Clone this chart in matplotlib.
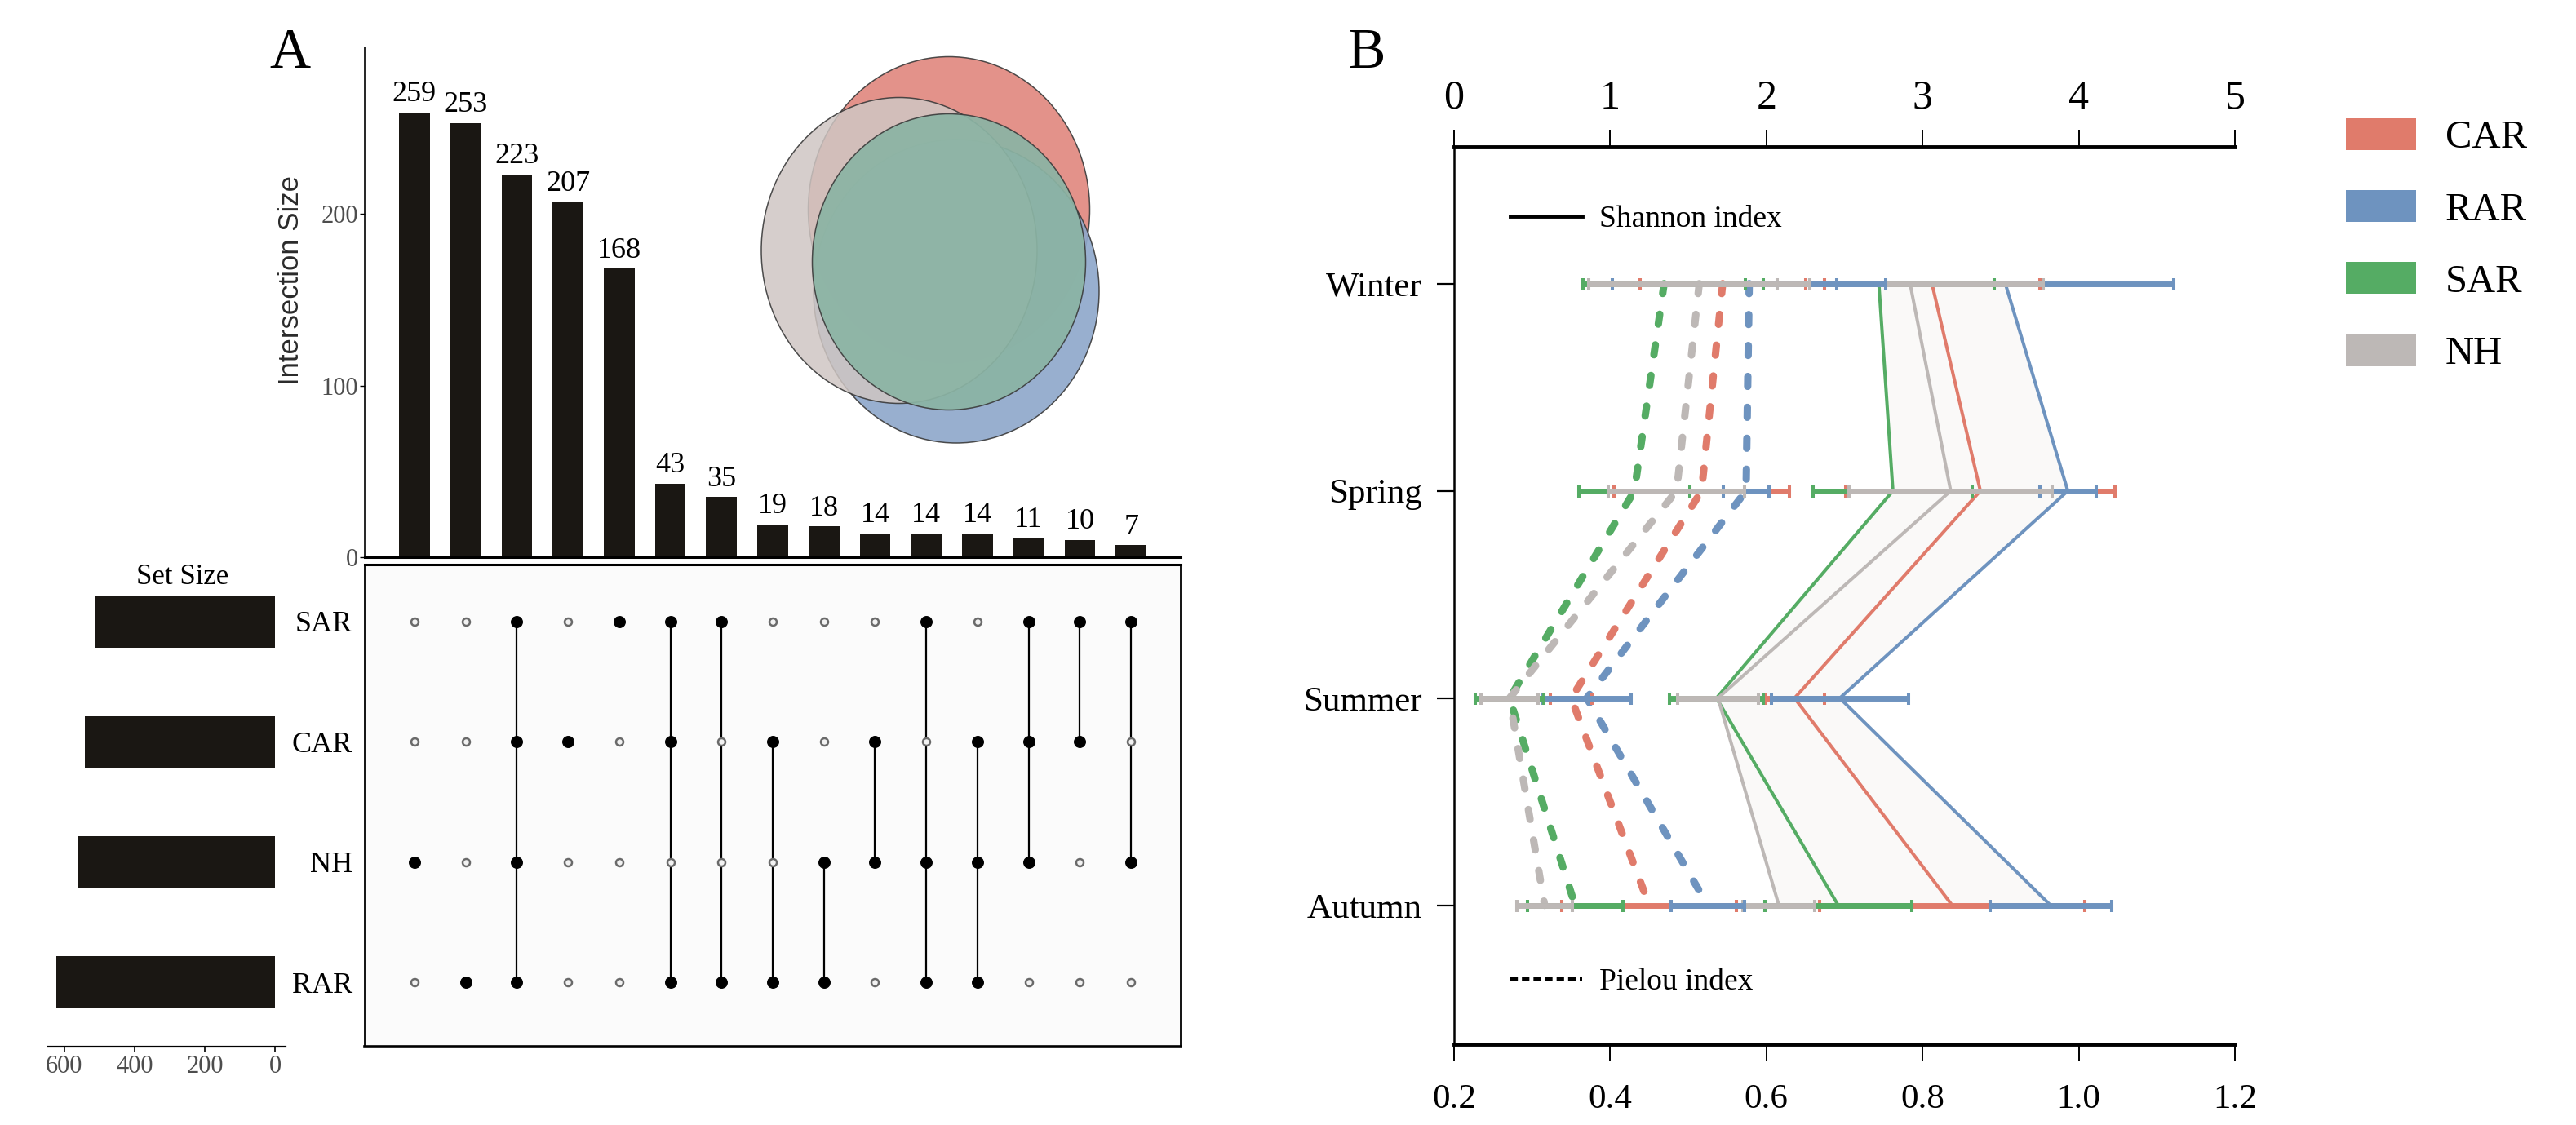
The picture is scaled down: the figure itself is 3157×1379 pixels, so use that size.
import matplotlib
matplotlib.use("Agg")
import matplotlib.pyplot as plt
import numpy as np
from matplotlib.patches import Ellipse, Patch
from matplotlib.lines import Line2D

plt.rcParams['font.family'] = ['Liberation Serif', 'DejaVu Serif']

# ---------------- data : panel A (UpSet) ----------------
set_names = ["RAR", "NH", "CAR", "SAR"]          # bottom -> top rows of the matrix
set_sizes = [623, 563, 542, 514]
inter_sizes = [259, 253, 223, 207, 168, 43, 35, 19, 18, 14, 14, 14, 11, 10, 7]
inter_members = [
    ["NH"], ["RAR"], ["SAR", "CAR", "NH", "RAR"], ["CAR"], ["SAR"],
    ["SAR", "CAR", "RAR"], ["SAR", "RAR"], ["CAR", "RAR"], ["NH", "RAR"],
    ["CAR", "NH"], ["SAR", "NH", "RAR"], ["CAR", "NH", "RAR"],
    ["SAR", "CAR", "NH"], ["SAR", "CAR"], ["SAR", "NH"],
]
bar_ticks = [0, 100, 200]
set_ticks = [600, 400, 200, 0]

# ---------------- data : panel B ----------------
seasons = ["Winter", "Spring", "Summer", "Autumn"]
groups = ["CAR", "RAR", "SAR", "NH"]
shannon_car = [3.06, 3.37, 2.18, 3.19]
shannon_rar = [3.53, 3.93, 2.47, 3.82]
shannon_sar = [2.72, 2.81, 1.68, 2.46]
shannon_nh = [2.92, 3.18, 1.69, 2.08]
shannon_err_car = [0.69, 0.86, 0.19, 0.85]
shannon_err_rar = [1.08, 0.18, 0.44, 0.39]
shannon_err_sar = [0.74, 0.51, 0.30, 0.47]
shannon_err_nh = [0.85, 0.65, 0.26, 0.23]
pielou_car = [0.544, 0.517, 0.350, 0.450]
pielou_rar = [0.578, 0.574, 0.370, 0.525]
pielou_sar = [0.469, 0.431, 0.271, 0.355]
pielou_nh = [0.514, 0.485, 0.271, 0.316]
pielou_err_car = [0.106, 0.112, 0.027, 0.112]
pielou_err_rar = [0.175, 0.029, 0.057, 0.047]
pielou_err_sar = [0.104, 0.071, 0.044, 0.061]
pielou_err_nh = [0.142, 0.087, 0.037, 0.036]
shannon_ticks = [0, 1, 2, 3, 4, 5]
pielou_ticks = [0.2, 0.4, 0.6, 0.8, 1.0, 1.2]

colors = {"CAR": "#E07B6B", "RAR": "#6E93BF", "SAR": "#55AC64", "NH": "#BDB8B6"}
shannon = {"CAR": shannon_car, "RAR": shannon_rar, "SAR": shannon_sar, "NH": shannon_nh}
shannon_err = {"CAR": shannon_err_car, "RAR": shannon_err_rar, "SAR": shannon_err_sar, "NH": shannon_err_nh}
pielou = {"CAR": pielou_car, "RAR": pielou_rar, "SAR": pielou_sar, "NH": pielou_nh}
pielou_err = {"CAR": pielou_err_car, "RAR": pielou_err_rar, "SAR": pielou_err_sar, "NH": pielou_err_nh}

# ---------------- layout helpers ----------------
W, H = 3157, 1379
fig = plt.figure(figsize=(W / 100, H / 100), dpi=100)


def frac(x0, y0, x1, y1):
    return [x0 / W, 1 - y1 / H, (x1 - x0) / W, (y1 - y0) / H]


BAR_COLOR = "#1a1713"
TICK_GREY = "#4d4d4d"

# ---------------- panel A : intersection bars ----------------
ax_bar = fig.add_axes(frac(447, 58, 1447, 683))
xpos = np.arange(len(inter_sizes))
ax_bar.bar(xpos, inter_sizes, width=0.6, color=BAR_COLOR)
for xi, v in zip(xpos, inter_sizes):
    ax_bar.annotate(str(v), (xi, v), xytext=(0, 4), textcoords="offset points",
                    ha="center", va="bottom", fontsize=26)
ax_bar.set_xlim(-0.97, 14.97)
ax_bar.set_ylim(0, 297)
ax_bar.set_xticks([])
ax_bar.set_yticks(bar_ticks)
ax_bar.tick_params(axis="y", labelsize=22, labelcolor=TICK_GREY, length=4, width=1, pad=2)
for s in ["top", "right"]:
    ax_bar.spines[s].set_visible(False)
ax_bar.spines["bottom"].set_linewidth(2.2)
ax_bar.spines["left"].set_linewidth(1.2)
fig.text(356 / W, 1 - 343 / H, "Intersection Size", rotation=90, ha="center", va="center",
         fontsize=25, color="#2a2a2a", family=["Liberation Sans", "DejaVu Sans"])

# ---------------- panel A : matrix ----------------
ax_mat = fig.add_axes(frac(447, 692, 1447, 1283))
ax_mat.set_facecolor("#FBFBFB")
rows = np.arange(len(set_names))
row_of = {n: i for i, n in enumerate(set_names)}
open_x, open_y, fill_x, fill_y = [], [], [], []
for j, members in enumerate(inter_members):
    ys = [row_of[m] for m in members]
    for n in set_names:
        if n in members:
            fill_x.append(j); fill_y.append(row_of[n])
        else:
            open_x.append(j); open_y.append(row_of[n])
    if len(ys) > 1:
        ax_mat.vlines(j, min(ys), max(ys), color="black", lw=1.6, zorder=2)
ax_mat.scatter(open_x, open_y, s=42, facecolor="#f2f2f2", edgecolor="#6a6a6a", lw=1.8, zorder=3)
ax_mat.scatter(fill_x, fill_y, s=95, color="black", zorder=4)
ax_mat.set_xlim(-0.97, 14.97)
ax_mat.set_ylim(-0.536, 3.475)
ax_mat.set_xticks([])
ax_mat.set_yticks(rows)
ax_mat.set_yticklabels(set_names)
ax_mat.tick_params(axis="y", length=0, labelsize=26, pad=11)
ax_mat.spines["top"].set_linewidth(2.2)
ax_mat.spines["bottom"].set_linewidth(2.6)
ax_mat.spines["left"].set_linewidth(1.3)
ax_mat.spines["right"].set_linewidth(1.3)

# ---------------- panel A : set sizes ----------------
ax_set = fig.add_axes(frac(59, 692, 350, 1283))
ax_set.barh(rows, set_sizes, height=0.43, color=BAR_COLOR)
ax_set.set_xlim(646, -30)
ax_set.set_ylim(-0.536, 3.475)
ax_set.set_yticks([])
ax_set.set_xticks(set_ticks)
ax_set.tick_params(axis="x", labelsize=22, labelcolor=TICK_GREY, length=4, width=1.2, pad=3)
for s in ["top", "right", "left"]:
    ax_set.spines[s].set_visible(False)
ax_set.spines["bottom"].set_linewidth(1.6)
fig.text(224 / W, 1 - 707 / H, "Set Size", ha="center", va="center", fontsize=25)

# ---------------- Venn inset ----------------
ax_v = fig.add_axes([0, 0, 1, 1])
ax_v.set_xlim(0, W)
ax_v.set_ylim(H, 0)
ax_v.axis("off")
venn = [
    ((1163, 257), 345, 375, "#E3928A", 1.0),   # CAR
    ((1172, 357), 350, 372, "#8FA8CB", 0.92),  # RAR
    ((1102, 307), 338, 375, "#CFC6C3", 0.85),  # NH
    ((1163, 321), 335, 363, "#8BB4A4", 0.93),  # SAR
]
for c, w, h, fc, a in venn:
    ax_v.add_patch(Ellipse(c, w, h, facecolor=fc, alpha=a, edgecolor="none"))
    ax_v.add_patch(Ellipse(c, w, h, facecolor="none", edgecolor="#3a3a3a", lw=1.1, alpha=0.9))

fig.text(355 / W, 1 - 66 / H, "A", ha="center", va="center", fontsize=50)
fig.text(1675 / W, 1 - 66 / H, "B", ha="center", va="center", fontsize=50)

# ---------------- panel B ----------------
ax = fig.add_axes(frac(1782, 180, 2739, 1280))
ypos = np.arange(len(seasons))
# faint band between solid lines
all_sh = np.array([shannon[g] for g in groups])
ax.fill_betweenx(ypos, all_sh.min(axis=0), all_sh.max(axis=0), color="#FAF9F8", lw=0, zorder=0.5)
for g in groups:
    ax.plot(shannon[g], ypos, color=colors[g], lw=2.9, zorder=2)
for g in groups:
    ax.errorbar(shannon[g], ypos, xerr=shannon_err[g], fmt="none", ecolor=colors[g],
                elinewidth=5, capsize=5.4, capthick=2.9, zorder=3)
ax.set_xlim(0, 5)
ax.set_ylim(3.67, -0.66)
ax.set_yticks(ypos)
ax.set_yticklabels(seasons)
ax.tick_params(axis="y", direction="out", length=15, width=1.6, labelsize=31, pad=13)

axp = ax.twiny()
for g in groups:
    axp.plot(pielou[g], ypos, color=colors[g], lw=6.5, linestyle=(0, (1.35, 2.85)),
             dash_capstyle="round", zorder=2)
for g in groups:
    axp.errorbar(pielou[g], ypos, xerr=pielou_err[g], fmt="none", ecolor=colors[g],
                 elinewidth=5, capsize=5.4, capthick=2.9, zorder=3)
axp.set_xlim(0.2, 1.2)
axp.xaxis.tick_bottom()
axp.xaxis.set_label_position("bottom")
axp.set_xticks(pielou_ticks)
axp.set_xticklabels([f"{t:.1f}" for t in pielou_ticks])
axp.tick_params(axis="x", direction="out", length=15, width=1.4, labelsize=31, pad=20)
for s in ["top", "left", "right"]:
    axp.spines[s].set_visible(False)
axp.spines["bottom"].set_visible(True)
axp.spines["bottom"].set_linewidth(3.5)

# Shannon axis on top (set after twiny, which resets tick sides)
ax.xaxis.tick_top()
ax.xaxis.set_label_position("top")
ax.set_xticks(shannon_ticks)
ax.set_xticklabels([str(t) for t in shannon_ticks])
ax.tick_params(axis="x", which="both", top=True, bottom=False, labeltop=True, labelbottom=False,
               direction="out", length=15, width=1.4, labelsize=36, pad=11)
ax.spines["top"].set_linewidth(3.5)
ax.spines["left"].set_linewidth(1.8)
ax.spines["bottom"].set_visible(False)
ax.spines["right"].set_visible(False)

leg1 = axp.legend(handles=[Line2D([], [], color="black", lw=3.5)], labels=["Shannon index"],
                  loc="center left", bbox_to_anchor=((1851 - 1782) / 957, (1280 - 269) / 1100),
                  frameon=False, fontsize=27, handlelength=2.35, handletextpad=0.56,
                  borderpad=0, borderaxespad=0)
axp.add_artist(leg1)
axp.legend(handles=[Line2D([], [], color="black", lw=3.0, linestyle=(0, (2.2, 1.2)))],
           labels=["Pielou index"], loc="center left",
           bbox_to_anchor=((1851 - 1782) / 957, (1280 - 1204) / 1100),
           frameon=False, fontsize=27, handlelength=2.35, handletextpad=0.56,
           borderpad=0, borderaxespad=0)

fig.legend(handles=[Patch(facecolor=colors[g], edgecolor="none") for g in groups],
           labels=groups, loc="upper left", bbox_to_anchor=(2875 / W, 1 - 145 / H),
           frameon=False, fontsize=35, handlelength=1.77, handleheight=0.86,
           handletextpad=0.74, labelspacing=0.86, borderpad=0, borderaxespad=0)

fig.savefig("out.png", dpi=100, facecolor="white")
